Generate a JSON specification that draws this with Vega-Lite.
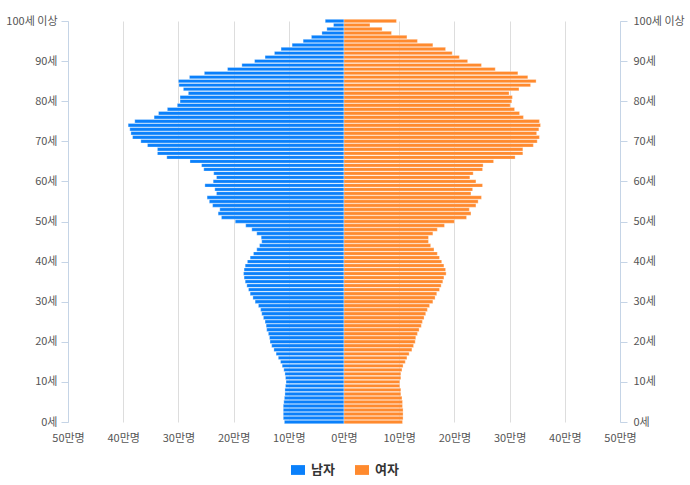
{
  "$schema": "https://vega.github.io/schema/vega-lite/v6.json",
  "width": 552,
  "height": 401,
  "autosize": {"type": "none"},
  "padding": {"left": 68, "top": 21, "right": 70, "bottom": 63},
  "background": "#ffffff",
  "config": {
    "view": {"stroke": null},
    "font": "Noto Sans CJK KR",
    "axis": {"labelFont": "Noto Sans CJK KR", "labelFontSize": 11, "labelColor": "#555555"}
  },
  "datasets": {
    "pyramid": [
      {"age":0,"sex":"남자","pop":10.8},{"age":0,"sex":"여자","pop":10.6},
      {"age":1,"sex":"남자","pop":11.0},{"age":1,"sex":"여자","pop":10.7},
      {"age":2,"sex":"남자","pop":11.0},{"age":2,"sex":"여자","pop":10.7},
      {"age":3,"sex":"남자","pop":11.0},{"age":3,"sex":"여자","pop":10.7},
      {"age":4,"sex":"남자","pop":11.0},{"age":4,"sex":"여자","pop":10.6},
      {"age":5,"sex":"남자","pop":10.9},{"age":5,"sex":"여자","pop":10.6},
      {"age":6,"sex":"남자","pop":10.8},{"age":6,"sex":"여자","pop":10.5},
      {"age":7,"sex":"남자","pop":10.7},{"age":7,"sex":"여자","pop":10.3},
      {"age":8,"sex":"남자","pop":10.7},{"age":8,"sex":"여자","pop":10.3},
      {"age":9,"sex":"남자","pop":10.6},{"age":9,"sex":"여자","pop":10.1},
      {"age":10,"sex":"남자","pop":10.5},{"age":10,"sex":"여자","pop":10.1},
      {"age":11,"sex":"남자","pop":10.6},{"age":11,"sex":"여자","pop":10.3},
      {"age":12,"sex":"남자","pop":10.7},{"age":12,"sex":"여자","pop":10.3},
      {"age":13,"sex":"남자","pop":10.9},{"age":13,"sex":"여자","pop":10.5},
      {"age":14,"sex":"남자","pop":11.2},{"age":14,"sex":"여자","pop":10.7},
      {"age":15,"sex":"남자","pop":11.5},{"age":15,"sex":"여자","pop":11.1},
      {"age":16,"sex":"남자","pop":11.9},{"age":16,"sex":"여자","pop":11.4},
      {"age":17,"sex":"남자","pop":12.3},{"age":17,"sex":"여자","pop":11.8},
      {"age":18,"sex":"남자","pop":12.7},{"age":18,"sex":"여자","pop":12.3},
      {"age":19,"sex":"남자","pop":13.1},{"age":19,"sex":"여자","pop":12.6},
      {"age":20,"sex":"남자","pop":13.4},{"age":20,"sex":"여자","pop":12.9},
      {"age":21,"sex":"남자","pop":13.5},{"age":21,"sex":"여자","pop":13.0},
      {"age":22,"sex":"남자","pop":13.7},{"age":22,"sex":"여자","pop":13.3},
      {"age":23,"sex":"남자","pop":14.0},{"age":23,"sex":"여자","pop":13.6},
      {"age":24,"sex":"남자","pop":14.1},{"age":24,"sex":"여자","pop":14.0},
      {"age":25,"sex":"남자","pop":14.3},{"age":25,"sex":"여자","pop":14.2},
      {"age":26,"sex":"남자","pop":14.6},{"age":26,"sex":"여자","pop":14.5},
      {"age":27,"sex":"남자","pop":14.9},{"age":27,"sex":"여자","pop":14.8},
      {"age":28,"sex":"남자","pop":15.1},{"age":28,"sex":"여자","pop":15.1},
      {"age":29,"sex":"남자","pop":15.5},{"age":29,"sex":"여자","pop":15.5},
      {"age":30,"sex":"남자","pop":16.1},{"age":30,"sex":"여자","pop":16.1},
      {"age":31,"sex":"남자","pop":16.5},{"age":31,"sex":"여자","pop":16.5},
      {"age":32,"sex":"남자","pop":17.0},{"age":32,"sex":"여자","pop":16.8},
      {"age":33,"sex":"남자","pop":17.3},{"age":33,"sex":"여자","pop":17.3},
      {"age":34,"sex":"남자","pop":17.6},{"age":34,"sex":"여자","pop":17.6},
      {"age":35,"sex":"남자","pop":17.9},{"age":35,"sex":"여자","pop":17.9},
      {"age":36,"sex":"남자","pop":18.1},{"age":36,"sex":"여자","pop":18.1},
      {"age":37,"sex":"남자","pop":18.2},{"age":37,"sex":"여자","pop":18.5},
      {"age":38,"sex":"남자","pop":18.1},{"age":38,"sex":"여자","pop":18.4},
      {"age":39,"sex":"남자","pop":17.9},{"age":39,"sex":"여자","pop":18.1},
      {"age":40,"sex":"남자","pop":17.5},{"age":40,"sex":"여자","pop":17.7},
      {"age":41,"sex":"남자","pop":17.0},{"age":41,"sex":"여자","pop":17.3},
      {"age":42,"sex":"남자","pop":16.4},{"age":42,"sex":"여자","pop":16.9},
      {"age":43,"sex":"남자","pop":15.8},{"age":43,"sex":"여자","pop":16.3},
      {"age":44,"sex":"남자","pop":15.3},{"age":44,"sex":"여자","pop":15.7},
      {"age":45,"sex":"남자","pop":14.9},{"age":45,"sex":"여자","pop":15.3},
      {"age":46,"sex":"남자","pop":15.0},{"age":46,"sex":"여자","pop":15.3},
      {"age":47,"sex":"남자","pop":15.8},{"age":47,"sex":"여자","pop":16.1},
      {"age":48,"sex":"남자","pop":16.7},{"age":48,"sex":"여자","pop":16.9},
      {"age":49,"sex":"남자","pop":17.8},{"age":49,"sex":"여자","pop":18.2},
      {"age":50,"sex":"남자","pop":19.7},{"age":50,"sex":"여자","pop":20.0},
      {"age":51,"sex":"남자","pop":22.2},{"age":51,"sex":"여자","pop":22.2},
      {"age":52,"sex":"남자","pop":22.8},{"age":52,"sex":"여자","pop":23.0},
      {"age":53,"sex":"남자","pop":22.5},{"age":53,"sex":"여자","pop":22.7},
      {"age":54,"sex":"남자","pop":23.8},{"age":54,"sex":"여자","pop":23.9},
      {"age":55,"sex":"남자","pop":24.4},{"age":55,"sex":"여자","pop":24.3},
      {"age":56,"sex":"남자","pop":24.8},{"age":56,"sex":"여자","pop":24.9},
      {"age":57,"sex":"남자","pop":23.1},{"age":57,"sex":"여자","pop":23.0},
      {"age":58,"sex":"남자","pop":23.4},{"age":58,"sex":"여자","pop":23.3},
      {"age":59,"sex":"남자","pop":25.2},{"age":59,"sex":"여자","pop":25.1},
      {"age":60,"sex":"남자","pop":23.7},{"age":60,"sex":"여자","pop":23.9},
      {"age":61,"sex":"남자","pop":23.1},{"age":61,"sex":"여자","pop":22.8},
      {"age":62,"sex":"남자","pop":23.6},{"age":62,"sex":"여자","pop":23.4},
      {"age":63,"sex":"남자","pop":25.4},{"age":63,"sex":"여자","pop":25.1},
      {"age":64,"sex":"남자","pop":25.8},{"age":64,"sex":"여자","pop":25.2},
      {"age":65,"sex":"남자","pop":27.9},{"age":65,"sex":"여자","pop":27.1},
      {"age":66,"sex":"남자","pop":32.1},{"age":66,"sex":"여자","pop":31.0},
      {"age":67,"sex":"남자","pop":33.8},{"age":67,"sex":"여자","pop":32.4},
      {"age":68,"sex":"남자","pop":33.8},{"age":68,"sex":"여자","pop":32.4},
      {"age":69,"sex":"남자","pop":35.6},{"age":69,"sex":"여자","pop":34.3},
      {"age":70,"sex":"남자","pop":36.8},{"age":70,"sex":"여자","pop":35.0},
      {"age":71,"sex":"남자","pop":38.3},{"age":71,"sex":"여자","pop":35.4},
      {"age":72,"sex":"남자","pop":38.6},{"age":72,"sex":"여자","pop":34.9},
      {"age":73,"sex":"남자","pop":38.8},{"age":73,"sex":"여자","pop":35.3},
      {"age":74,"sex":"남자","pop":39.1},{"age":74,"sex":"여자","pop":35.6},
      {"age":75,"sex":"남자","pop":37.9},{"age":75,"sex":"여자","pop":35.4},
      {"age":76,"sex":"남자","pop":34.4},{"age":76,"sex":"여자","pop":32.5},
      {"age":77,"sex":"남자","pop":33.6},{"age":77,"sex":"여자","pop":31.8},
      {"age":78,"sex":"남자","pop":32.0},{"age":78,"sex":"여자","pop":30.9},
      {"age":79,"sex":"남자","pop":30.2},{"age":79,"sex":"여자","pop":30.1},
      {"age":80,"sex":"남자","pop":29.7},{"age":80,"sex":"여자","pop":30.4},
      {"age":81,"sex":"남자","pop":29.7},{"age":81,"sex":"여자","pop":30.5},
      {"age":82,"sex":"남자","pop":28.2},{"age":82,"sex":"여자","pop":29.9},
      {"age":83,"sex":"남자","pop":29.1},{"age":83,"sex":"여자","pop":31.7},
      {"age":84,"sex":"남자","pop":29.9},{"age":84,"sex":"여자","pop":33.8},
      {"age":85,"sex":"남자","pop":30.0},{"age":85,"sex":"여자","pop":34.8},
      {"age":86,"sex":"남자","pop":28.0},{"age":86,"sex":"여자","pop":33.3},
      {"age":87,"sex":"남자","pop":25.3},{"age":87,"sex":"여자","pop":31.5},
      {"age":88,"sex":"남자","pop":21.1},{"age":88,"sex":"여자","pop":27.4},
      {"age":89,"sex":"남자","pop":18.5},{"age":89,"sex":"여자","pop":24.9},
      {"age":90,"sex":"남자","pop":16.2},{"age":90,"sex":"여자","pop":22.4},
      {"age":91,"sex":"남자","pop":14.3},{"age":91,"sex":"여자","pop":20.9},
      {"age":92,"sex":"남자","pop":12.6},{"age":92,"sex":"여자","pop":19.6},
      {"age":93,"sex":"남자","pop":11.4},{"age":93,"sex":"여자","pop":18.4},
      {"age":94,"sex":"남자","pop":9.4},{"age":94,"sex":"여자","pop":16.1},
      {"age":95,"sex":"남자","pop":7.4},{"age":95,"sex":"여자","pop":13.3},
      {"age":96,"sex":"남자","pop":5.9},{"age":96,"sex":"여자","pop":11.4},
      {"age":97,"sex":"남자","pop":4.0},{"age":97,"sex":"여자","pop":8.6},
      {"age":98,"sex":"남자","pop":3.1},{"age":98,"sex":"여자","pop":6.9},
      {"age":99,"sex":"남자","pop":1.9},{"age":99,"sex":"여자","pop":4.7},
      {"age":100,"sex":"남자","pop":3.4},{"age":100,"sex":"여자","pop":9.5}
    ]
  },
  "data": {"name": "pyramid"},
  "transform": [
    {"calculate": "datum.sex === '남자' ? -datum.pop : datum.pop", "as": "signed"}
  ],
  "layer": [
    {
      "mark": {
        "type": "bar",
        "orient": "horizontal",
        "size": 3.4,
        "stroke": "#ffffff",
        "strokeOpacity": 0.3,
        "strokeWidth": 1
      },
      "encoding": {
        "y": {
          "field": "age",
          "type": "quantitative",
          "scale": {"domain": [0, 100], "nice": false, "zero": false, "padding": 0},
          "axis": {
            "orient": "left",
            "values": [0, 10, 20, 30, 40, 50, 60, 70, 80, 90, 100],
            "labelExpr": "datum.value === 100 ? '100세 이상' : datum.value + '세'",
            "title": null,
            "grid": false,
            "domainColor": "#c5d4e6",
            "tickColor": "#c5d4e6",
            "tickSize": 7,
            "labelPadding": 4
          }
        },
        "x": {
          "field": "signed",
          "type": "quantitative",
          "scale": {"domain": [-50, 50], "nice": false, "padding": 0},
          "axis": {
            "values": [-50, -40, -30, -20, -10, 0, 10, 20, 30, 40, 50],
            "labelExpr": "abs(datum.value) + '만명'",
            "title": null,
            "grid": true,
            "gridColor": "#dddddd",
            "domain": false,
            "ticks": false,
            "labelFlush": false,
            "labelPadding": 10
          }
        },
        "color": {
          "field": "sex",
          "type": "nominal",
          "scale": {"domain": ["남자", "여자"], "range": ["#0a80fb", "#ff8a2e"]},
          "legend": {
            "title": null,
            "orient": "none",
            "direction": "horizontal",
            "legendX": 223,
            "legendY": 442,
            "symbolType": "M-1,-0.7H1V0.7H-1Z",
            "symbolSize": 196,
            "symbolStrokeWidth": 0,
            "symbolOpacity": 1,
            "labelFontSize": 13,
            "labelFontWeight": "bold",
            "labelColor": "#333333",
            "labelFont": "Noto Sans CJK KR",
            "labelOffset": 6,
            "columnPadding": 20
          }
        }
      }
    },
    {
      "mark": {"type": "bar", "orient": "horizontal", "size": 3.4, "opacity": 0},
      "encoding": {
        "y": {
          "field": "age",
          "type": "quantitative",
          "scale": {"domain": [0, 100], "nice": false, "zero": false, "padding": 0},
          "axis": {
            "orient": "right",
            "values": [0, 10, 20, 30, 40, 50, 60, 70, 80, 90, 100],
            "labelExpr": "datum.value === 100 ? '100세 이상' : datum.value + '세'",
            "title": null,
            "grid": false,
            "domainColor": "#c5d4e6",
            "tickColor": "#c5d4e6",
            "tickSize": 7,
            "labelPadding": 6
          }
        },
        "x": {"field": "signed", "type": "quantitative"}
      }
    }
  ],
  "resolve": {"axis": {"y": "independent"}}
}
